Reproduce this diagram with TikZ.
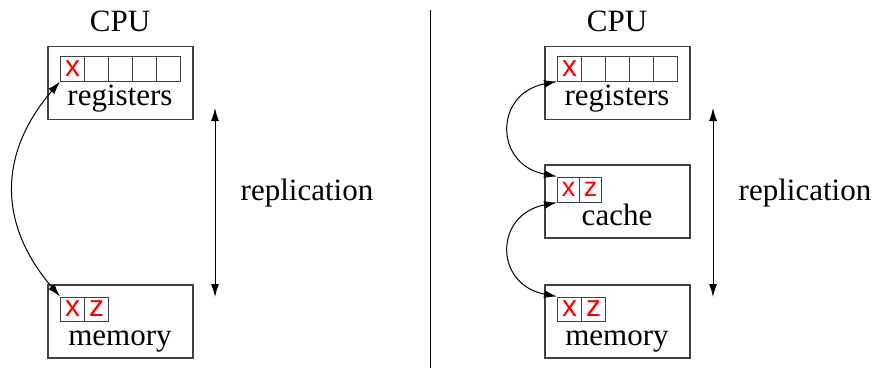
\documentclass[tikz,border=0pt]{standalone}
\usepackage{fontspec}
\setmainfont{Liberation Serif}
\newfontfamily\cellsans{Liberation Sans}
\usetikzlibrary{arrows.meta}
\tikzset{
  box/.style={draw=black!75, line width=1.1pt, minimum width=145pt, minimum height=73pt, inner sep=0pt},
  cell/.style={draw=black!75, line width=1pt, minimum width=24pt, minimum height=24pt, inner sep=0pt, anchor=west, font=\cellsans\fontsize{30}{30}\selectfont, text=red},
  smallcell/.style={cell, minimum width=22pt, minimum height=25pt, font=\cellsans\fontsize{27}{27}\selectfont},
  lbl/.style={font=\fontsize{31}{36}\selectfont, anchor=base, inner sep=0pt},
  conn/.style={line width=1pt, {Latex[length=13pt,width=8pt]}-{Latex[length=13pt,width=8pt]}},
}
\begin{document}
\begin{tikzpicture}[x=1pt,y=-1pt]
\useasboundingbox (0,0) rectangle (877,369);
% ---------- left ----------
\node[lbl] (cpuL) at (120,32) {CPU};
\node[box] (regL) at (120.5,83) {};
\node[cell] (rL1) at (60,69) {x};
\node[cell] (rL2) at (84,69) {};
\node[cell] (rL3) at (108,69) {};
\node[cell] (rL4) at (132,69) {};
\node[cell] (rL5) at (156,69) {};
\node[lbl] (regLt) at (120,105) {registers};
\node[box] (memL) at (120.5,321.5) {};
\node[cell] (mL1) at (60,309) {x};
\node[cell] (mL2) at (84,309) {z};
\node[lbl] (memLt) at (120,345) {memory};
\draw[conn] (rL1.south west) .. controls +(-62,72) and +(-62,-72) .. (mL1.north west);
\coordinate (repLa) at (215,108);
\coordinate (repLb) at (215,297);
\draw[conn] (repLa) -- (repLb);
\node[lbl] (repLt) at (307,200) {replication};
% ---------- divider ----------
\coordinate (divA) at (430,10);
\coordinate (divB) at (430,368);
\draw[line width=1pt] (divA) -- (divB);
% ---------- right ----------
\node[lbl] (cpuR) at (617,32) {CPU};
\node[box] (regR) at (617.5,83) {};
\node[cell] (rR1) at (557,69) {x};
\node[cell] (rR2) at (581,69) {};
\node[cell] (rR3) at (605,69) {};
\node[cell] (rR4) at (629,69) {};
\node[cell] (rR5) at (653,69) {};
\node[lbl] (regRt) at (617,105) {registers};
\node[box] (cacheR) at (617.5,201.5) {};
\node[smallcell] (cR1) at (557,189.5) {x};
\node[smallcell] (cR2) at (579,189.5) {z};
\node[lbl] (cacheRt) at (617,225) {cache};
\node[box] (memR) at (617.5,321.5) {};
\node[cell] (mR1) at (557,309) {x};
\node[cell] (mR2) at (581,309) {z};
\node[lbl] (memRt) at (617,345) {memory};
\draw[conn] (rR1.south west) .. controls +(-63,12) and +(-63,-12) .. (cR1.north west);
\draw[conn] (cR1.south west) .. controls +(-63,12) and +(-63,-12) .. (mR1.north west);
\coordinate (repRa) at (713,108);
\coordinate (repRb) at (713,297);
\draw[conn] (repRa) -- (repRb);
\node[lbl] (repRt) at (805,200) {replication};
\end{tikzpicture}
\end{document}
